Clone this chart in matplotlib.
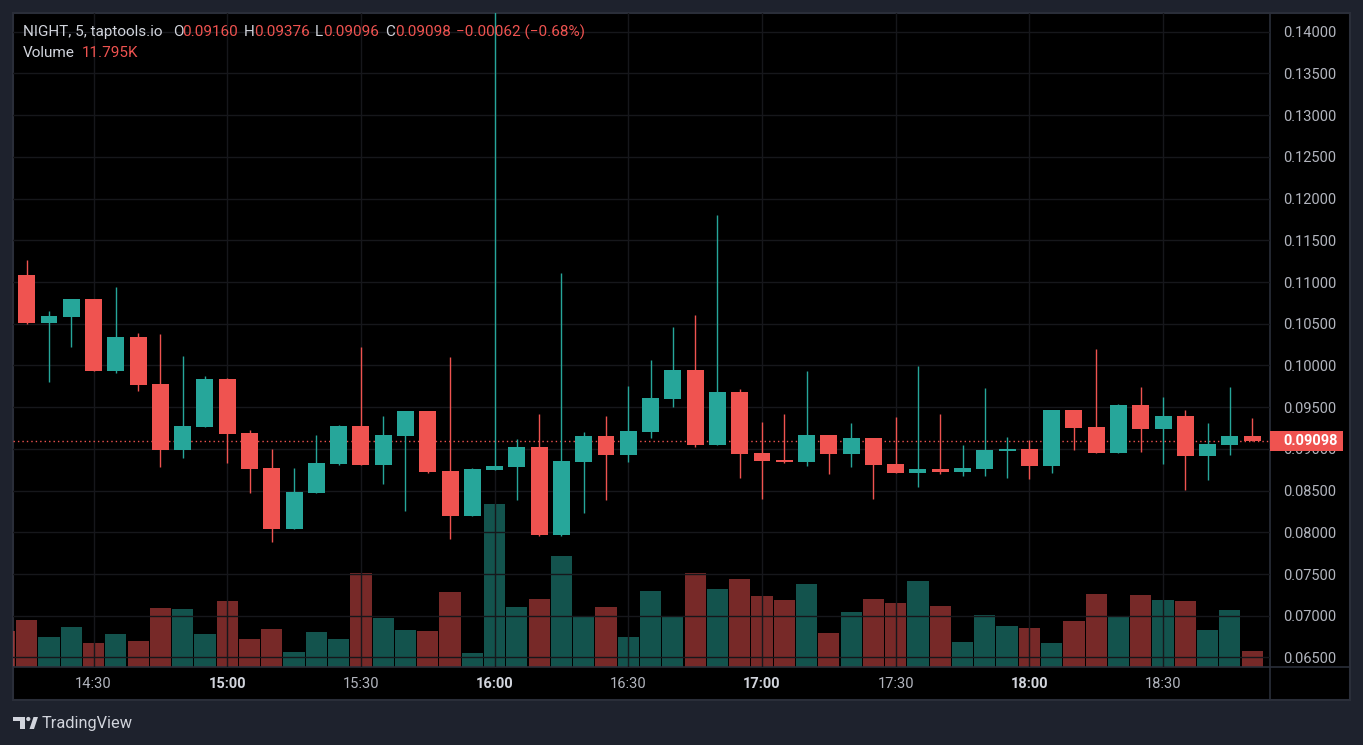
import numpy as np
import matplotlib
matplotlib.use("Agg")
import matplotlib.pyplot as plt
import matplotlib.transforms as mtransforms
from matplotlib.patches import Rectangle, Polygon, Circle
from matplotlib.lines import Line2D

plt.rcParams['font.family'] = ['Roboto', 'DejaVu Sans']

# Velas de 5 minutos de NIGHT (taptools.io)
horas = [
    "14:15", "14:20", "14:25", "14:30", "14:35", "14:40", "14:45", "14:50", "14:55",
    "15:00", "15:05", "15:10", "15:15", "15:20", "15:25", "15:30", "15:35", "15:40", "15:45", "15:50", "15:55",
    "16:00", "16:05", "16:10", "16:15", "16:20", "16:25", "16:30", "16:35", "16:40", "16:45", "16:50", "16:55",
    "17:00", "17:05", "17:10", "17:15", "17:20", "17:25", "17:30", "17:35", "17:40", "17:45", "17:50", "17:55",
    "18:00", "18:05", "18:10", "18:15", "18:20", "18:25", "18:30", "18:35", "18:40", "18:45", "18:50",
]

aperturas = [
    0.11087, 0.10513, 0.10585, 0.10798, 0.09936, 0.10341, 0.09776, 0.08987, 0.09263, 0.09837,
    0.09187, 0.08767, 0.08037, 0.08470, 0.08818, 0.09272, 0.08806, 0.09155, 0.09452, 0.08731,
    0.08193, 0.08746, 0.08782, 0.09019, 0.07965, 0.08843, 0.09151, 0.08927, 0.09203, 0.09600,
    0.09945, 0.09047, 0.09680, 0.08947, 0.08863, 0.08843, 0.09163, 0.08939, 0.09127, 0.08815,
    0.08710, 0.08755, 0.08722, 0.08758, 0.08980, 0.08995, 0.08794, 0.09464, 0.09260, 0.08951,
    0.09524, 0.09239, 0.09392, 0.08915, 0.09047, 0.09160,
]
maximos = [
    0.11267, 0.10654, 0.10798, 0.10798, 0.10942, 0.10389, 0.10377, 0.10113, 0.09873, 0.09849,
    0.09224, 0.08995, 0.08767, 0.09163, 0.09284, 0.10221, 0.09392, 0.09452, 0.09452, 0.10101,
    0.08767, 0.14500, 0.09115, 0.09416, 0.11111, 0.09200, 0.09392, 0.09752, 0.10065, 0.10462,
    0.10606, 0.11808, 0.09716, 0.09320, 0.09416, 0.09933, 0.09163, 0.09308, 0.09127, 0.09380,
    0.09993, 0.09416, 0.09043, 0.09728, 0.09139, 0.09103, 0.09464, 0.09464, 0.10197, 0.09536,
    0.09740, 0.09620, 0.09464, 0.09308, 0.09740, 0.09376,
]
minimos = [
    0.10501, 0.09804, 0.10225, 0.09936, 0.09912, 0.09696, 0.08782, 0.08891, 0.09263, 0.08830,
    0.08470, 0.07881, 0.08037, 0.08470, 0.08806, 0.08806, 0.08578, 0.08254, 0.08710, 0.07917,
    0.08193, 0.08746, 0.08386, 0.07953, 0.07953, 0.08230, 0.08386, 0.08843, 0.09131, 0.09504,
    0.09023, 0.09047, 0.08650, 0.08398, 0.08830, 0.08794, 0.08698, 0.08782, 0.08398, 0.08710,
    0.08542, 0.08698, 0.08674, 0.08674, 0.08650, 0.08638, 0.08710, 0.08987, 0.08951, 0.08951,
    0.08963, 0.08818, 0.08506, 0.08626, 0.08927, 0.09096,
]
cierres = [
    0.10513, 0.10594, 0.10798, 0.09936, 0.10341, 0.09768, 0.08987, 0.09272, 0.09837, 0.09179,
    0.08758, 0.08037, 0.08478, 0.08827, 0.09272, 0.08806, 0.09163, 0.09452, 0.08722, 0.08193,
    0.08755, 0.08791, 0.09019, 0.07965, 0.08851, 0.09151, 0.08927, 0.09212, 0.09608, 0.09945,
    0.09047, 0.09680, 0.08939, 0.08855, 0.08843, 0.09163, 0.08939, 0.09127, 0.08806, 0.08710,
    0.08758, 0.08722, 0.08770, 0.08983, 0.08995, 0.08794, 0.09464, 0.09248, 0.08951, 0.09524,
    0.09239, 0.09392, 0.08915, 0.09055, 0.09151, 0.09098,
]
# volumen en miles
volumen_k = [
    34.6, 22.1, 29.5, 17.7, 24.3, 19.2, 43.5, 42.8, 24.3, 48.7,
    20.6, 28.0, 11.1, 25.8, 20.6, 69.3, 36.1, 27.3, 26.5, 55.3,
    10.3, 120.2, 44.2, 50.1, 81.8, 37.6, 44.2, 22.1, 56.0, 36.9,
    69.3, 57.5, 64.9, 52.3, 49.4, 61.2, 25.1, 40.5, 50.1, 47.2,
    63.4, 45.0, 18.4, 38.3, 30.2, 28.7, 17.7, 33.9, 53.8, 37.6,
    53.1, 49.4, 48.7, 27.3, 42.0, 11.795,
]
vol_previo_k = 26.5  # barra de 14:10, cortada en el borde izquierdo

ultimo_precio = 0.09098
etiquetas_tiempo = ["14:30", "15:00", "15:30", "16:00", "16:30", "17:00", "17:30", "18:00", "18:30"]
horas_en_negrita = ["15:00", "16:00", "17:00", "18:00"]
niveles_precio = [0.065, 0.070, 0.075, 0.080, 0.085, 0.090, 0.095, 0.100,
                  0.105, 0.110, 0.115, 0.120, 0.125, 0.130, 0.135, 0.140]

# Colores estilo TradingView
VERDE = '#26a69a'
ROJO = '#ef5350'
FONDO = '#1e222d'
BORDE = '#2a2e39'
REJILLA = '#16171b'
TEXTO = '#b2b5be'
CLARO = '#d1d4dc'

W, H = 1363, 745
fig = plt.figure(figsize=(W / 100, H / 100), dpi=100, facecolor=FONDO)

# transformacion en pixeles (origen arriba a la izquierda)
px = mtransforms.Affine2D().scale(1 / W, -1 / H).translate(0, 1) + fig.transFigure

# panel negro con borde
fig.add_artist(Rectangle((13, 13), 1337, 687, transform=px, facecolor='black',
                         edgecolor=BORDE, linewidth=1.5, zorder=0))

ax = fig.add_axes([13 / W, 1 - 667 / H, 1257 / W, 654 / H])
axv = ax.twinx()
ax.set_zorder(2)
axv.set_zorder(1)
ax.patch.set_visible(False)
axv.patch.set_facecolor('black')

x = np.arange(len(horas))
o = np.array(aperturas)
h = np.array(maximos)
l = np.array(minimos)
c = np.array(cierres)
colores = np.where(c >= o, VERDE, ROJO)

# Volumen (escala propia, abajo)
axv.bar(x, volumen_k, width=0.95, color=colores, alpha=0.5, linewidth=0)
axv.bar([-1], [vol_previo_k], width=0.95, color=ROJO, alpha=0.5, linewidth=0)
axv.set_ylim(0, 482)
axv.set_yticks([])
axv.tick_params(right=False, labelright=False)

# Velas
cuerpo = np.maximum(np.abs(c - o), 0.00012)
ax.vlines(x, l, h, colors=colores, linewidth=1, zorder=3)
ax.bar(x, cuerpo, bottom=np.minimum(o, c), width=0.76, color=colores, linewidth=0, zorder=4)

ax.set_xlim(-0.615, 55.8)
ax.set_ylim(0.06386, 0.14224)

# Linea del ultimo precio
ax.axhline(ultimo_precio, color=ROJO, linestyle=(0, (1, 2.2)), linewidth=1, zorder=2)

# Ejes y rejilla
ax.yaxis.tick_right()
ax.set_yticks(niveles_precio)
ax.set_yticklabels([f"{v:.5f}" for v in niveles_precio])
ax.tick_params(axis='y', length=0, pad=9.4, labelsize=10.5, labelcolor=TEXTO)
pos_tiempo = [horas.index(t) for t in etiquetas_tiempo]
ax.set_xticks(pos_tiempo)
ax.set_xticklabels(etiquetas_tiempo)
ax.tick_params(axis='x', length=0, pad=7.5, labelsize=10.5, labelcolor=TEXTO)
for etiqueta in ax.get_xticklabels():
    if etiqueta.get_text() in horas_en_negrita:
        etiqueta.set_fontweight('bold')
        etiqueta.set_color(CLARO)
ax.grid(color=REJILLA, linewidth=1)
ax.set_axisbelow(True)
for eje in (ax, axv):
    for s in eje.spines.values():
        s.set_visible(False)

# Etiqueta del precio actual (tapa parte de 0.09000, como en la original)
trans = mtransforms.blended_transform_factory(ax.transAxes, ax.transData)
ax.add_patch(Rectangle((1.0, ultimo_precio - 0.00121), 73 / 1257, 0.00242, transform=trans,
                       facecolor=ROJO, edgecolor='none', clip_on=False, zorder=5))
ax.text(1.0 + 13 / 1257, ultimo_precio, f"{ultimo_precio:.5f}", transform=trans, color='white',
        fontsize=10.5, fontweight='bold', va='center', ha='left', zorder=6, clip_on=False)

# separadores de la escala de precios y de tiempo
fig.add_artist(Line2D([1270, 1270], [13, 700], transform=px, color=BORDE, linewidth=1.2))
fig.add_artist(Line2D([13, 1350], [667, 667], transform=px, color=BORDE, linewidth=1.2))

# Encabezado OHLC
def texto(xp, yp, s, color):
    fig.text(xp / W, 1 - yp / H, s, color=color, fontsize=11, va='center', ha='left')

texto(23, 32, "NIGHT, 5, taptools.io", CLARO)
texto(173.5, 32, "O", CLARO)
texto(182.5, 32, "0.09160", ROJO)
texto(244, 32, "H", CLARO)
texto(254, 32, "0.09376", ROJO)
texto(315, 32, "L", CLARO)
texto(323, 32, "0.09096", ROJO)
texto(385, 32, "C", CLARO)
texto(395, 32, "0.09098", ROJO)
texto(456, 32, "\u22120.00062 (\u22120.68%)", ROJO)
texto(23, 53, "Volume", CLARO)
texto(82, 53, "11.795K", ROJO)

# Logo de TradingView
fig.add_artist(Polygon([(13, 717), (25, 717), (25, 729), (19.5, 729), (19.5, 721), (13, 721)],
                       closed=True, transform=px, facecolor=CLARO, edgecolor='none'))
fig.add_artist(Circle((28.3, 719), 2.1, transform=px, facecolor=CLARO, edgecolor='none'))
fig.add_artist(Polygon([(29.5, 729), (34, 729), (38, 717), (33.5, 717)],
                       closed=True, transform=px, facecolor=CLARO, edgecolor='none'))
fig.text(42 / W, 1 - 723.5 / H, "TradingView", color=CLARO, fontsize=11.8, va='center', ha='left')

plt.savefig("out.png", dpi=100, facecolor=FONDO)
